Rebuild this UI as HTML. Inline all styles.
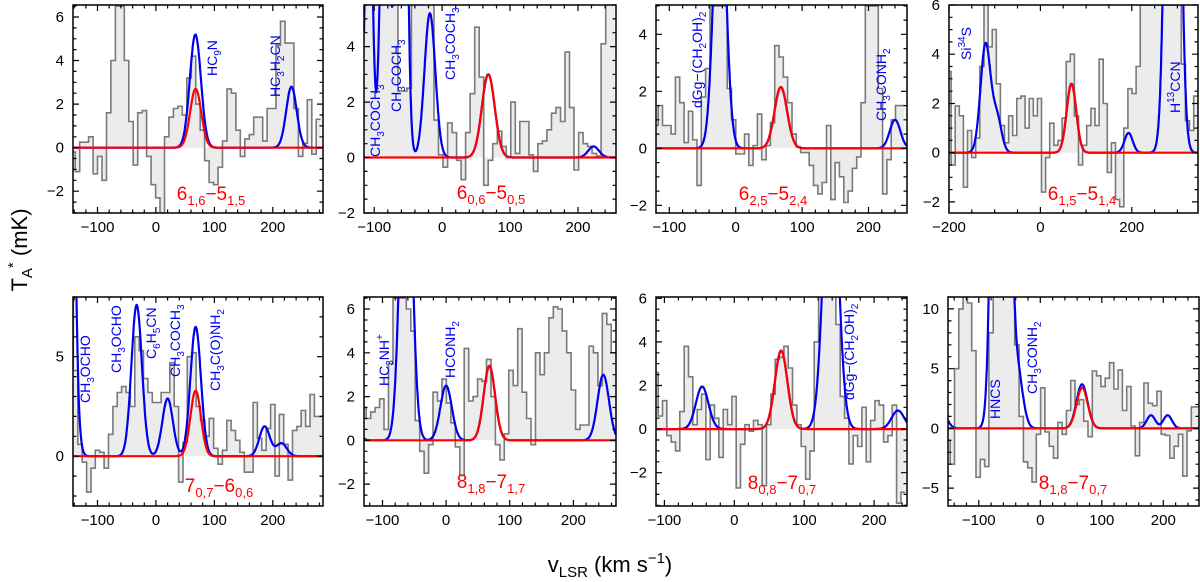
<!DOCTYPE html>
<html><head><meta charset="utf-8"><title>Spectra panels</title>
<style>
html,body{margin:0;padding:0;background:#fff;}
svg{display:block;font-family:"Liberation Sans",sans-serif;}
</style></head>
<body>
<svg id="fig" width="1200" height="582" viewBox="0 0 1200 582" xmlns="http://www.w3.org/2000/svg">
<text transform="translate(27,250) rotate(-90)" text-anchor="middle" font-size="22">T<tspan font-size="15" dy="5">A</tspan><tspan font-size="15" dy="-14">*</tspan><tspan dy="9">   (mK)</tspan></text>
<text x="610" y="572" text-anchor="middle" font-size="22">v<tspan font-size="15" dy="5">LSR</tspan><tspan dy="-5">  (km  s</tspan><tspan font-size="15" dy="-9">−1</tspan><tspan dy="9">)</tspan></text>
</svg>
<script>
// ---- data (per panel) ----
const spec1 = [-0.2,-1.1,0.25,0.25,0.5,-1.2,-0.4,-1.5,1.6,4.0,6.5,6.5,4.0,1.2,-0.8,1.6,1.7,-0.4,-1.7,-2.3,-3,0.5,1.4,1.8,1.9,1.5,3.2,4.2,2.0,0.8,-0.6,-1.6,-1.7,-0.9,0.3,2.7,2.5,0.8,-0.4,0.4,0.6,1.4,1.4,0.3,1.8,1.8,4.7,5.8,4.8,4.8,1.8,-0.4,0.2,2.2,-0.3,1.3];
const chan1 = [-142, 7.64];
const blueC1 = [67, 232]; const blueA1 = [2.5, 2.8]; const blueS1 = [9.5, 9];
const red1 = [68, 2.7, 9.5];

const spec2 = [6,6,6,6,6,6,6,6,2.4,2.4,2.5,6,6,6,6,6,1.35,0.1,-0.35,1.25,0.9,-0.1,-0.8,0.9,2.3,4.7,2.9,-1.0,-0.1,0.5,0.95,0.4,0.0,2.0,0.15,1.3,1.3,0.1,-0.5,0.5,0.6,1.0,1.6,1.8,1.3,3.8,1.8,-0.45,0.9,0.5,0.4,0.15,0.05,4.1,6,6];
const chan2 = [-115, 6.65];
const blueC2 = [-108, -84, -60, -18, 223]; const blueA2 = [12, 14, 30, 5.2, 0.4]; const blueS2 = [5, 6, 6, 8, 8];
const red2 = [68, 3.0, 9.5];

const spec3 = [0.8,1.5,0.8,0.8,0.5,2.5,1.6,0.2,1.3,0.3,-1.3,1.8,2.8,5,5,5,5,2.1,1.0,-0.2,-0.2,0.5,-0.6,0.1,1.2,-0.4,0.1,0.9,3.6,3.2,2.5,1.6,0.5,0.05,-0.15,-0.15,-0.6,-1.3,-1.6,-1.2,0.8,-1.8,-0.5,-1.0,-1.9,-1.5,-0.7,-0.3,1.6,5,5,5,2.1,-1.6,-0.4,1.0,1.5,1.5];
const chan3 = [-120, 6.5];
const blueC3 = [-24, 240]; const blueA3 = [10, 1.0]; const blueS3 = [9, 8];
const red3 = [68, 2.15, 9.5];

const spec4 = [3.3,-0.5,1.9,1.5,-1.4,0.9,-0.2,0.6,3.5,6,4.3,5,2.8,1.1,0.4,1.5,0.7,2.2,2.3,1.0,2.2,1.5,2.2,-1.6,-0.2,1.2,0.3,0.5,1.4,3.7,4.0,1.5,-0.5,0.3,1.1,1.8,1.1,3.8,2.0,-0.8,0.4,-1.9,-2.2,1.0,2.6,2.4,3.5,6,6,6,6,6,6,6,6,6,6,3.6,1.3,0.9,2.3];
const chan4 = [-200, 9];
const blueC4 = [-120, -95, 193, 290]; const blueA4 = [4.4, 1.4, 0.8, 37]; const blueS4 = [11, 10, 9, 12];
const red4 = [68, 2.8, 10.5];

const spec5 = [8,4.3,0.6,-0.3,-1.8,-0.6,0.3,0.2,-0.6,1.1,2.5,3.2,3.5,3.2,2.5,6.0,5.3,3.9,3.2,2.7,2.7,3.2,3.2,4.7,2.5,-1.3,0.7,5.0,5.2,2.5,1.8,1.0,1.9,0.4,-0.4,0.3,1.8,1.3,0.8,0.2,-0.8,-0.8,2.7,0.9,0.3,1.4,2.6,-1.0,2.1,0.6,-1.2,1.3,1.5,2.3,1.5,3.1,2.0,2.0];
const chan5 = [-145, 7.5];
const blueC5 = [-160, -33, 20, 68, 186, 215]; const blueA5 = [142, 7.6, 2.9, 3.2, 1.5, 0.65]; const blueS5 = [10, 9, 9, 9, 9, 9];
const red5 = [68, 3.3, 9];

const spec6 = [1.5,1.0,1.3,1.5,1.9,0.5,3.5,6.5,6.5,6.5,6,5,0.9,-0.5,-1.5,-0.2,2.2,1.8,2.8,1.7,0.8,-0.3,-1.6,4.2,1.8,2.0,2.8,2.7,3.7,2.0,-0.2,-0.9,0.3,3.2,2.5,5.1,2.2,1.0,-0.2,4.0,3.0,4.0,5.6,6.1,6.0,5.0,4.0,2.3,0.5,0.7,0.7,4.3,4.0,2.5,5.8,5.3,4.0];
const chan6 = [-129, 7];
const blueC6 = [-150, -63, 0, 247]; const blueA6 = [3, 16, 2.5, 3.0]; const blueS6 = [8, 9, 9, 9];
const red6 = [68, 3.4, 9];

const spec7 = [2.6,0.6,1.3,-0.3,-0.6,-1.0,0.8,3.8,2.4,0.2,0.9,1.6,-1.4,1.1,0.5,-1.3,0.9,0.2,1.5,-2.7,-0.7,0.2,-0.1,0.4,0.2,-2.6,0.2,1.6,3.2,3.3,3.8,2.8,1.1,0.2,-0.8,-2.3,-1.0,4.0,6.5,6.5,6.5,6.5,4.8,1.5,0.5,-1.6,-0.3,-0.8,1.0,-1.5,0.4,1.3,1.1,-0.6,-0.3,1.1,-3.4,-2.9];
const chan7 = [-112, 6.2];
const blueC7 = [-46, 138, 234]; const blueA7 = [1.95, 14, 0.85]; const blueS7 = [9, 10, 9];
const red7 = [67, 3.6, 9];

const spec8 = [-1.0,-3.0,5.0,10,11.5,10.5,6.5,-4.1,-2.6,-3.2,8,11.5,11.5,11.5,11.5,11.5,7,1,-2.8,-3.3,-4.5,-0.5,3.4,-0.3,-1.5,-2.5,0.5,-0.5,1.5,4.0,2.0,2.4,0.6,-0.7,4.8,4.4,3.5,4.2,5.5,3.3,4.9,1.5,3.5,0.2,-2.3,0.5,3.8,2.1,1.9,3.1,-0.5,-0.6,-2.5,-1.5,-0.5,-4.0,-0.2,1.8,1.8];
const chan8 = [-150, 7];
const blueC8 = [-160, -64, -38, 66, 180, 207]; const blueA8 = [1.5, 130, 5, 0.3, 1.1, 1.1]; const blueS8 = [8, 9, 9, 9, 7, 7];
const red8 = [68, 3.4, 9];

// ---- layout ----
const layouts = [
 {box:[73,5,323,213], xr:[-142,286], yr:[-3,6.55], xmaj:100, xmin:20, ymaj:2, ymin:0.5},
 {box:[364,5,616,213], xr:[-115,256], yr:[-2,5.5], xmaj:100, xmin:20, ymaj:2, ymin:0.5},
 {box:[656,5,907,213], xr:[-120,258], yr:[-2.27,5.03], xmaj:100, xmin:20, ymaj:2, ymin:0.5},
 {box:[949,5,1198,213], xr:[-200,345], yr:[-2.45,6.0], xmaj:200, xmin:50, ymaj:2, ymin:0.5},
 {box:[73,297,323,506], xr:[-142,286], yr:[-2.5,8.0], xmaj:100, xmin:20, ymaj:5, ymin:1},
 {box:[364,297,616,506], xr:[-129,267], yr:[-3,6.55], xmaj:100, xmin:20, ymaj:2, ymin:0.5},
 {box:[656,297,907,506], xr:[-112,247], yr:[-3.53,6.06], xmaj:100, xmin:20, ymaj:2, ymin:0.5},
 {box:[948,297,1199,506], xr:[-150,258], yr:[-6.5,11], xmaj:100, xmin:20, ymaj:5, ymin:1}
];
const panelData = [
 [spec1,chan1,blueC1,blueA1,blueS1,red1],[spec2,chan2,blueC2,blueA2,blueS2,red2],
 [spec3,chan3,blueC3,blueA3,blueS3,red3],[spec4,chan4,blueC4,blueA4,blueS4,red4],
 [spec5,chan5,blueC5,blueA5,blueS5,red5],[spec6,chan6,blueC6,blueA6,blueS6,red6],
 [spec7,chan7,blueC7,blueA7,blueS7,red7],[spec8,chan8,blueC8,blueA8,blueS8,red8]
];
const transitions = [
 ["6","1,6","5","1,5"],["6","0,6","5","0,5"],["6","2,5","5","2,4"],["6","1,5","5","1,4"],
 ["7","0,7","6","0,6"],["8","1,8","7","1,7"],["8","0,8","7","0,7"],["8","1,8","7","0,7"]
];
const transPos = [[211,200],[491,199],[773,200],[1082,200],[219,492],[491,488],[782,489],[1073,489]];
const species = [
 [0,[["HC","n"],["9","sub"],["N","n"]],220,76],
 [0,[["HC","n"],["3","sub"],["H","n"],["2","sub"],["CN","n"]],283,97],
 [1,[["CH","n"],["3","sub"],["COCH","n"],["3","sub"]],383,157],
 [1,[["CH","n"],["3","sub"],["COCH","n"],["3","sub"]],404,112],
 [1,[["CH","n"],["3","sub"],["COCH","n"],["3","sub"]],458,80],
 [2,[["dGg−(CH","n"],["2","sub"],["OH)","n"],["2","sub"]],705,108],
 [2,[["CH","n"],["3","sub"],["CONH","n"],["2","sub"]],889,121],
 [3,[["Si","n"],["34","sup"],["S","n"]],974,60],
 [3,[["H","n"],["13","sup"],["CCN","n"]],1183,113],
 [4,[["CH","n"],["3","sub"],["OCHO","n"]],93,403],
 [4,[["CH","n"],["3","sub"],["OCHO","n"]],124,373],
 [4,[["C","n"],["6","sub"],["H","n"],["5","sub"],["CN","n"]],159,359],
 [4,[["CH","n"],["3","sub"],["COCH","n"],["3","sub"]],183,377],
 [4,[["CH","n"],["3","sub"],["C(O)NH","n"],["2","sub"]],223,391],
 [5,[["HC","n"],["3","sub"],["NH","n"],["+","sup"]],392,386],
 [5,[["HCONH","n"],["2","sub"]],458,378],
 [6,[["dGg−(CH","n"],["2","sub"],["OH)","n"],["2","sub"]],857,400],
 [7,[["HNCS","n"]],1003,419],
 [7,[["CH","n"],["3","sub"],["CONH","n"],["2","sub"]],1040,394]
];

const NS = "http://www.w3.org/2000/svg";
const svg = document.getElementById('fig');
function mk(tag, attrs, parent){ const e=document.createElementNS(NS,tag); for(const k in attrs) e.setAttribute(k,attrs[k]); (parent||svg).appendChild(e); return e; }
function gauss(v,c,a,s){ return a*Math.exp(-(v-c)*(v-c)/(2*s*s)); }
function fmt(n){ return (n<0?"−":"")+Math.abs(Math.round(n*100)/100); }

layouts.forEach((L, p) => {
  const [x0,y0,x1,y1] = L.box;
  const xs = v => x0 + (v - L.xr[0])/(L.xr[1]-L.xr[0])*(x1-x0);
  const ys = t => y1 - (t - L.yr[0])/(L.yr[1]-L.yr[0])*(y1-y0);
  const [spec, chan, bc, ba, bs, red] = panelData[p];
  const g = mk('g', {});
  
  
  const cp = mk('clipPath', {id:'cp'+p}, g);
  mk('rect', {x:x0, y:y0, width:x1-x0, height:y1-y0}, cp);
  const inner = mk('g', {'clip-path':'url(#cp'+p+')'}, g);
  let d = 'M'+xs(chan[0]-chan[1]/2).toFixed(1)+','+ys(0).toFixed(1);
  let s = '';
  spec.forEach((val,i) => {
    const a = xs(chan[0]+(i-0.5)*chan[1]), b = xs(chan[0]+(i+0.5)*chan[1]), y = ys(val);
    d += ' L'+a.toFixed(1)+','+y.toFixed(1)+' L'+b.toFixed(1)+','+y.toFixed(1);
    s += (i===0?'M':' L')+a.toFixed(1)+','+y.toFixed(1)+' L'+b.toFixed(1)+','+y.toFixed(1);
  });
  d += ' L'+xs(chan[0]+(spec.length-0.5)*chan[1]).toFixed(1)+','+ys(0).toFixed(1)+' Z';
  const hf = mk('path', {d:d, fill:'#ececec', stroke:'none'}, inner);
  
  
  const hs = mk('path', {d:s, fill:'none', stroke:'#7a7a7a', 'stroke-width':1.6}, inner);
  
  
  let bd='', rd='';
  for (let v=L.xr[0]; v<=L.xr[1]+0.01; v+=0.5) {
    const r = gauss(v, red[0], red[1], red[2]);
    let b = r;
    for (let k=0;k<bc.length;k++) b += gauss(v, bc[k], ba[k], bs[k]);
    const yb = Math.max(ys(b), y0-20);
    bd += (bd?' L':'M')+xs(v).toFixed(1)+','+yb.toFixed(1);
    rd += (rd?' L':'M')+xs(v).toFixed(1)+','+ys(r).toFixed(1);
  }
  const bl = mk('path', {d:bd, fill:'none', stroke:'#0000ee', 'stroke-width':2.2}, inner);
  
  
  const rl = mk('path', {d:rd, fill:'none', stroke:'#ff0000', 'stroke-width':2.2}, inner);
  
  
  const fr = mk('rect', {x:x0, y:y0, width:x1-x0, height:y1-y0, fill:'none', stroke:'#000', 'stroke-width':1.5}, g);
  
  
  let td = '';
  const xminStart = Math.ceil(L.xr[0]/L.xmin)*L.xmin;
  for (let v=xminStart; v<=L.xr[1]; v+=L.xmin) {
    const X = xs(v), maj = Math.abs(v/L.xmaj - Math.round(v/L.xmaj))<1e-6, len = maj?6:3.5;
    td += 'M'+X.toFixed(1)+','+y1+' v'+(-len)+' M'+X.toFixed(1)+','+y0+' v'+len+' ';
    if (maj) {
      const t = mk('text', {x:X, y:y1+19, 'text-anchor':'middle', 'font-size':15}, g);
      t.textContent = fmt(v);
      
      
    }
  }
  const yminStart = Math.ceil(L.yr[0]/L.ymin)*L.ymin;
  for (let t=yminStart; t<=L.yr[1]+1e-6; t+=L.ymin) {
    const Y = ys(t), maj = Math.abs(t/L.ymaj - Math.round(t/L.ymaj))<1e-6, len = maj?6:3.5;
    td += 'M'+x0+','+Y.toFixed(1)+' h'+len+' M'+x1+','+Y.toFixed(1)+' h'+(-len)+' ';
    if (maj) {
      const lb = mk('text', {x:x0-9, y:Y+5, 'text-anchor':'end', 'font-size':15}, g);
      lb.textContent = fmt(t);
      
      
    }
  }
  const tk = mk('path', {d:td, stroke:'#000', 'stroke-width':1.2, fill:'none'}, g);
  
  
  const tr = transitions[p], tp = transPos[p];
  const tt = mk('text', {x:tp[0], y:tp[1], 'text-anchor':'middle', 'font-size':19, fill:'#ff0000'}, g);
  
  
  tt.innerHTML = tr[0]+'<tspan font-size="13" dy="5">'+tr[1]+'</tspan><tspan dy="-5">−'+tr[2]+'</tspan><tspan font-size="13" dy="5">'+tr[3]+'</tspan>';
});

species.forEach(sp => {
  const [p, parts, rx, by] = sp;
  const t = mk('text', {transform:'translate('+(rx-3)+','+by+') rotate(-90)', 'font-size':14, fill:'#0000ee'});
  
  
  let html = '', cur = 0;
  parts.forEach(([txt, kind]) => {
    const want = kind==='sub' ? 4 : kind==='sup' ? -6 : 0;
    const fs = kind==='n' ? 14 : 10;
    html += '<tspan font-size="'+fs+'" dy="'+(want-cur)+'">'+txt+'</tspan>';
    cur = want;
  });
  t.innerHTML = html;
});
</script>
</body></html>
